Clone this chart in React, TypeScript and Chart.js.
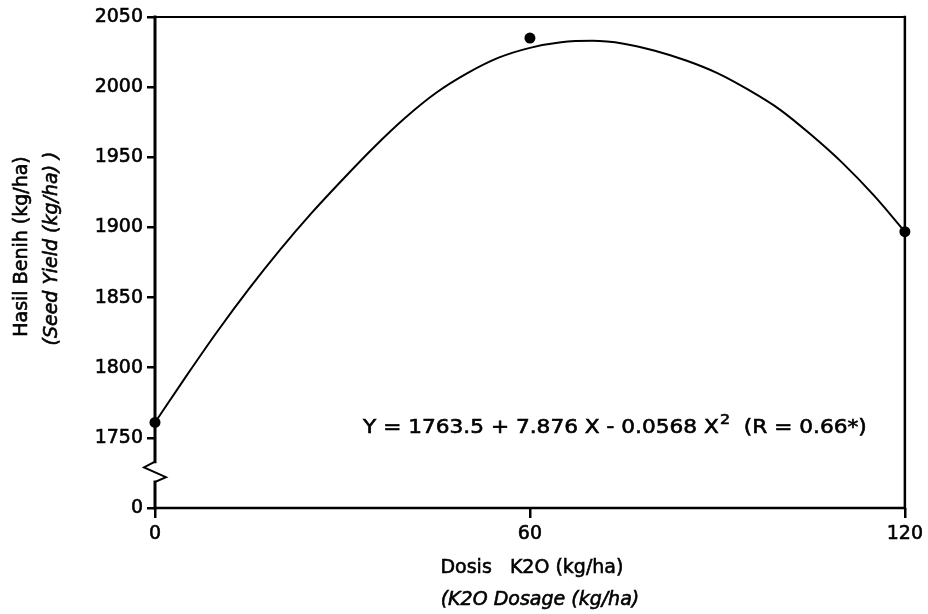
import React, { useEffect, useRef } from 'react';
import { Chart, registerables } from 'chart.js';

Chart.register(...registerables);

// Fitted curve as drawn in the picture (kg/ha per K2O dose)
const curveX = [0, 5, 10, 15, 20, 25, 30, 35, 40, 45, 50, 55, 60, 65, 70, 75, 80, 85, 90, 95, 100, 105, 110, 115, 120];
const curveY = [1761, 1794, 1826, 1856, 1884, 1910, 1934, 1957, 1978, 1996, 2010, 2021, 2028, 2032, 2033, 2031, 2026, 2019, 2010, 1998, 1984, 1966, 1946, 1923, 1897];

// Observed means
const obsX = [0, 60, 120];
const obsY = [1761, 2035, 1897];

// Ticks
const yTickValues = [1700, 1750, 1800, 1850, 1900, 1950, 2000, 2050];
const yTickLabels = ['0', '1750', '1800', '1850', '1900', '1950', '2000', '2050'];
const xTickValues = [0, 60, 120];
const xTickLabels = ['0', '60', '120'];

// Texts
const yTitleLines = ['Hasil Benih (kg/ha)', '(Seed Yield (kg/ha) )'];
const xTitleLines = ['Dosis   K2O (kg/ha)', '(K2O Dosage (kg/ha)'];
const equationMain = 'Y = 1763.5 + 7.876 X - 0.0568 X';
const equationSup = '2';
const equationTail = '  (R = 0.66*)';

// Axis break (between the "0" tick and 1750)
const axisBreakLow = 1700;
const axisBreakHigh = 1750;

// Equation anchor in data units
const eqStartX = 33.3;
const eqEndX = 113.9;
const eqBaseY = 1753.5;

const FONT = '"DejaVu Sans", "Liberation Sans", Arial, sans-serif';
const TEXT_STROKE = 0.6;

function boldText(ctx: CanvasRenderingContext2D, t: string, x: number, y: number) {
  ctx.fillText(t, x, y);
  ctx.strokeText(t, x, y);
}

const framePlugin = {
  id: 'frame',
  beforeDatasetsDraw(chart: any) {
    const { ctx, chartArea } = chart;
    const { left, top, right, bottom } = chartArea;
    const ys = chart.scales.y;
    const pA = ys.getPixelForValue(axisBreakHigh);
    const pB = ys.getPixelForValue(axisBreakLow);
    const g = pB - pA;
    ctx.save();
    ctx.strokeStyle = '#000';
    ctx.lineCap = 'square';
    ctx.lineWidth = 2;
    ctx.beginPath();
    ctx.moveTo(left, top);
    ctx.lineTo(right, top);
    ctx.stroke();
    ctx.lineWidth = 2.5;
    ctx.beginPath();
    ctx.moveTo(right, top);
    ctx.lineTo(right, bottom);
    ctx.stroke();
    ctx.beginPath();
    ctx.moveTo(left, bottom);
    ctx.lineTo(right, bottom);
    ctx.stroke();
    // left axis with break
    ctx.lineWidth = 3;
    ctx.beginPath();
    ctx.moveTo(left, top);
    ctx.lineTo(left, pA + g * 0.34);
    ctx.stroke();
    ctx.lineWidth = 2;
    ctx.beginPath();
    ctx.moveTo(left, pA + g * 0.34);
    ctx.lineTo(left - 11, pA + g * 0.42);
    ctx.lineTo(left + 11, pA + g * 0.56);
    ctx.lineTo(left, pA + g * 0.63);
    ctx.stroke();
    ctx.lineWidth = 3;
    ctx.beginPath();
    ctx.moveTo(left, pA + g * 0.63);
    ctx.lineTo(left, bottom);
    ctx.stroke();
    ctx.restore();
  },
  afterDatasetsDraw(chart: any) {
    const { ctx, chartArea } = chart;
    const { left, top, right, bottom } = chartArea;
    const xs = chart.scales.x;
    const ys = chart.scales.y;
    ctx.save();
    ctx.fillStyle = '#000';
    ctx.strokeStyle = '#000';
    ctx.lineWidth = TEXT_STROKE;

    // Equation
    const mainFont = `19px ${FONT}`;
    const supFont = `14px ${FONT}`;
    ctx.font = mainFont;
    const wMain = ctx.measureText(equationMain).width;
    const wTail = ctx.measureText(equationTail).width;
    ctx.font = supFont;
    const wSup = ctx.measureText(equationSup).width;
    const natural = wMain + wSup + 1 + wTail;
    const x0 = xs.getPixelForValue(eqStartX);
    const x1 = xs.getPixelForValue(eqEndX);
    const base = ys.getPixelForValue(eqBaseY);
    const sx = (x1 - x0) / natural;
    ctx.translate(x0, base);
    ctx.scale(sx, 1);
    ctx.textAlign = 'left';
    ctx.textBaseline = 'alphabetic';
    ctx.font = mainFont;
    boldText(ctx, equationMain, 0, 0);
    ctx.font = supFont;
    boldText(ctx, equationSup, wMain + 1, -9);
    ctx.font = mainFont;
    boldText(ctx, equationTail, wMain + wSup + 1, 0);
    ctx.restore();

    // Y title (rotated)
    const cy = (top + bottom) / 2 - 16;
    ctx.save();
    ctx.fillStyle = '#000';
    ctx.strokeStyle = '#000';
    ctx.lineWidth = TEXT_STROKE;
    ctx.textAlign = 'center';
    ctx.textBaseline = 'middle';
    ctx.translate(left - 133, cy);
    ctx.rotate(-Math.PI / 2);
    ctx.font = `19px ${FONT}`;
    boldText(ctx, yTitleLines[0], 0, 0);
    ctx.restore();
    ctx.save();
    ctx.fillStyle = '#000';
    ctx.strokeStyle = '#000';
    ctx.lineWidth = TEXT_STROKE;
    ctx.textAlign = 'center';
    ctx.textBaseline = 'middle';
    ctx.translate(left - 103, cy + 2);
    ctx.rotate(-Math.PI / 2);
    ctx.font = `italic 19px ${FONT}`;
    boldText(ctx, yTitleLines[1], 0, 0);
    ctx.restore();

    // X title
    ctx.save();
    ctx.fillStyle = '#000';
    ctx.strokeStyle = '#000';
    ctx.lineWidth = TEXT_STROKE;
    ctx.textAlign = 'center';
    ctx.textBaseline = 'middle';
    const cx = (left + right) / 2;
    ctx.font = `19px ${FONT}`;
    boldText(ctx, xTitleLines[0], cx + 2, bottom + 60);
    ctx.font = `italic 19px ${FONT}`;
    boldText(ctx, xTitleLines[1], cx + 10, bottom + 92);
    ctx.restore();
  },
};

export default function App() {
  const canvasRef = useRef<HTMLCanvasElement | null>(null);

  useEffect(() => {
    const canvas = canvasRef.current;
    if (!canvas) return;
    const chart = new Chart(canvas, {
      type: 'line',
      data: {
        datasets: [
          {
            type: 'line',
            data: curveX.map((x, i) => ({ x, y: curveY[i] })),
            borderColor: '#000',
            borderWidth: 2,
            pointRadius: 0,
            tension: 0.4,
            cubicInterpolationMode: 'monotone',
            fill: false,
          } as any,
          {
            type: 'scatter',
            data: obsX.map((x, i) => ({ x, y: obsY[i] })),
            pointRadius: 5.5,
            pointHoverRadius: 5.5,
            backgroundColor: '#000',
            borderColor: '#000',
            borderWidth: 0,
            clip: false,
          } as any,
        ],
      },
      options: {
        animation: false,
        responsive: true,
        maintainAspectRatio: false,
        layout: { padding: { left: 0, top: 17, right: 22, bottom: 0 } },
        plugins: {
          legend: { display: false },
          tooltip: { enabled: false },
        },
        scales: {
          x: {
            type: 'linear',
            min: 0,
            max: 120,
            afterBuildTicks: (s: any) => {
              s.ticks = xTickValues.map((v) => ({ value: v }));
            },
            afterFit: (s: any) => {
              s.height = 106;
            },
            ticks: {
              autoSkip: false,
              maxRotation: 0,
              padding: 5,
              color: '#000',
              textStrokeColor: '#000',
              textStrokeWidth: TEXT_STROKE,
              font: { family: FONT, size: 19 },
              callback: (v: any) => {
                const i = xTickValues.indexOf(Number(v));
                return i >= 0 ? xTickLabels[i] : '';
              },
            },
            grid: {
              drawOnChartArea: false,
              drawTicks: true,
              tickLength: 10,
              color: '#000',
              lineWidth: 2.5,
            },
            border: { display: false },
          },
          y: {
            type: 'linear',
            min: 1700,
            max: 2050,
            afterBuildTicks: (s: any) => {
              s.ticks = yTickValues.map((v) => ({ value: v }));
            },
            afterFit: (s: any) => {
              s.width = 155;
            },
            ticks: {
              autoSkip: false,
              padding: 4,
              color: '#000',
              textStrokeColor: '#000',
              textStrokeWidth: TEXT_STROKE,
              font: { family: FONT, size: 19 },
              callback: (v: any) => {
                const i = yTickValues.indexOf(Number(v));
                return i >= 0 ? yTickLabels[i] : '';
              },
            },
            grid: {
              drawOnChartArea: false,
              drawTicks: true,
              tickLength: 8,
              color: '#000',
              lineWidth: 2.5,
            },
            border: { display: false },
          },
        },
      } as any,
      plugins: [framePlugin],
    });
    return () => {
      chart.destroy();
    };
  }, []);

  return (
    <div
      style={{
        position: 'fixed',
        left: 0,
        top: 0,
        width: 928,
        height: 614,
        background: '#fff',
      }}
    >
      <canvas ref={canvasRef} />
    </div>
  );
}
